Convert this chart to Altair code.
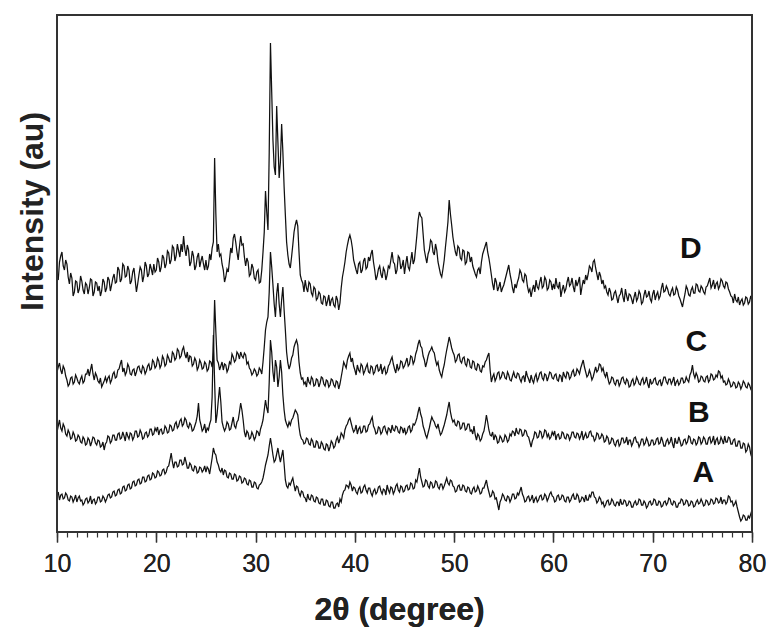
import altair as alt
import pandas as pd

# 2-theta sampling of the digitised patterns (degrees)
TWO_THETA_START = 10.0
TWO_THETA_STEP = 0.125

# Intensities (arbitrary units, stacked offsets as in the figure), one value per 0.125 deg, 10 -> 80
D_VALUES = [
    258, 252, 270, 276, 280, 266, 262, 272, 268, 255, 248, 259, 254, 236, 240, 251, 250, 239, 243, 256,
    251, 242, 238, 249, 247, 238, 244, 253, 252, 236, 240, 250, 249, 241, 246, 236, 241, 253, 250, 240,
    244, 255, 252, 241, 247, 254, 258, 249, 250, 265, 262, 250, 253, 268, 266, 255, 256, 266, 262, 248,
    251, 260, 264, 252, 240, 248, 257, 265, 262, 250, 256, 270, 266, 255, 258, 268, 263, 257, 268, 260,
    262, 274, 270, 260, 265, 277, 274, 264, 268, 281, 279, 268, 272, 286, 284, 271, 276, 288, 281, 275,
    288, 280, 296, 283, 276, 287, 282, 266, 270, 281, 276, 262, 266, 275, 279, 265, 271, 276, 268, 262,
    272, 262, 266, 278, 272, 284, 290, 374, 318, 280, 288, 276, 278, 268, 262, 250, 255, 263, 260, 272,
    284, 279, 294, 298, 290, 280, 272, 285, 296, 287, 288, 275, 266, 274, 270, 256, 258, 268, 264, 254,
    252, 260, 262, 249, 250, 262, 280, 300, 341, 320, 302, 380, 489, 440, 392, 365, 357, 426, 390, 354,
    370, 408, 380, 345, 317, 290, 277, 268, 264, 275, 287, 300, 307, 312, 306, 280, 257, 252, 249, 240,
    252, 244, 240, 250, 248, 239, 236, 245, 243, 232, 234, 240, 238, 229, 228, 236, 235, 226, 231, 237,
    226, 232, 234, 227, 225, 236, 232, 222, 229, 244, 255, 262, 270, 280, 287, 293, 297, 292, 284, 272,
    267, 262, 258, 268, 270, 259, 262, 271, 274, 263, 265, 275, 271, 278, 282, 270, 262, 252, 256, 263,
    266, 258, 254, 264, 261, 252, 257, 266, 264, 272, 280, 270, 268, 258, 262, 276, 274, 263, 266, 272,
    258, 268, 276, 265, 262, 271, 280, 268, 272, 284, 297, 312, 320, 316, 314, 298, 282, 275, 269, 278,
    282, 292, 290, 280, 277, 288, 282, 270, 264, 258, 255, 263, 272, 285, 297, 310, 332, 318, 307, 295,
    287, 280, 276, 286, 284, 274, 272, 282, 281, 268, 270, 280, 279, 270, 275, 266, 262, 258, 255, 262,
    264, 258, 270, 278, 282, 286, 290, 280, 274, 266, 257, 248, 242, 254, 250, 241, 245, 250, 240, 244,
    247, 252, 257, 262, 267, 258, 252, 244, 239, 248, 244, 250, 254, 262, 259, 252, 250, 258, 256, 246,
    240, 243, 235, 242, 247, 240, 252, 245, 243, 250, 255, 244, 246, 255, 252, 242, 244, 252, 250, 242,
    248, 243, 254, 246, 244, 250, 235, 242, 247, 240, 243, 250, 255, 246, 248, 254, 245, 240, 252, 246,
    250, 255, 237, 245, 252, 248, 257, 252, 258, 266, 264, 260, 270, 272, 264, 258, 252, 260, 256, 248,
    252, 244, 246, 240, 237, 244, 240, 232, 233, 239, 241, 235, 229, 236, 238, 244, 235, 230, 243, 236,
    231, 238, 237, 233, 228, 235, 240, 231, 234, 241, 238, 228, 230, 237, 242, 235, 236, 241, 233, 230,
    238, 242, 232, 237, 240, 233, 236, 244, 249, 240, 241, 246, 243, 238, 236, 241, 244, 237, 238, 245,
    242, 236, 233, 229, 225, 232, 238, 246, 243, 237, 236, 242, 245, 239, 239, 248, 247, 241, 240, 246,
    244, 240, 238, 245, 246, 250, 254, 244, 247, 252, 243, 248, 250, 243, 246, 253, 251, 246, 244, 250,
    249, 243, 240, 236, 235, 229, 238, 232, 230, 235, 227, 231, 233, 227, 229, 235, 234, 228, 230, 236,
    232,
]
C_VALUES = [
    160, 165, 169, 162, 158, 166, 163, 156, 152, 146, 148, 154, 155, 148, 150, 157, 154, 150, 148, 153,
    156, 149, 151, 158, 158, 163, 156, 162, 168, 158, 152, 159, 156, 151, 149, 154, 145, 148, 151, 155,
    150, 154, 156, 149, 152, 158, 160, 154, 155, 162, 163, 168, 172, 160, 164, 157, 160, 168, 165, 158,
    157, 162, 163, 156, 160, 165, 166, 161, 159, 166, 164, 158, 161, 166, 168, 162, 163, 172, 170, 164,
    166, 174, 171, 164, 167, 176, 173, 166, 168, 177, 174, 170, 170, 180, 178, 172, 174, 183, 181, 174,
    176, 182, 185, 178, 174, 180, 170, 176, 175, 166, 168, 174, 171, 162, 165, 172, 169, 163, 164, 170,
    168, 161, 163, 171, 170, 165, 180, 232, 200, 172, 169, 162, 166, 170, 162, 168, 167, 160, 163, 170,
    168, 178, 175, 170, 172, 180, 178, 173, 180, 176, 174, 179, 177, 168, 170, 164, 162, 157, 159, 163,
    161, 156, 158, 164, 162, 158, 170, 185, 202, 210, 215, 240, 280, 265, 247, 228, 215, 238, 249, 228,
    215, 232, 245, 222, 202, 180, 169, 163, 167, 174, 177, 185, 189, 192, 187, 170, 159, 153, 154, 148,
    150, 145, 155, 150, 148, 155, 153, 146, 147, 153, 152, 145, 149, 155, 154, 148, 146, 152, 151, 145,
    147, 153, 152, 147, 145, 151, 150, 143, 148, 155, 162, 170, 167, 164, 172, 176, 179, 170, 174, 166,
    162, 157, 167, 162, 160, 168, 166, 158, 161, 165, 168, 160, 159, 166, 165, 158, 160, 166, 167, 161,
    162, 168, 158, 163, 165, 158, 160, 166, 168, 172, 175, 168, 163, 159, 168, 162, 164, 171, 170, 164,
    166, 170, 174, 166, 168, 176, 175, 168, 171, 178, 182, 188, 192, 186, 184, 176, 172, 165, 170, 176,
    180, 182, 185, 181, 179, 172, 167, 170, 162, 158, 155, 162, 167, 175, 182, 188, 195, 190, 184, 180,
    177, 170, 172, 177, 178, 171, 169, 174, 175, 168, 166, 173, 172, 165, 164, 171, 170, 163, 162, 168,
    167, 161, 160, 166, 165, 170, 172, 176, 179, 162, 150, 155, 158, 151, 154, 159, 160, 153, 155, 160,
    159, 154, 153, 160, 157, 152, 151, 156, 160, 155, 154, 159, 158, 153, 150, 155, 156, 150, 161, 156,
    153, 149, 157, 152, 149, 155, 158, 151, 154, 159, 160, 154, 152, 158, 157, 151, 155, 160, 159, 154,
    153, 157, 158, 152, 151, 157, 156, 150, 160, 156, 154, 160, 159, 153, 155, 160, 162, 156, 157, 163,
    161, 158, 164, 168, 172, 165, 160, 155, 157, 162, 158, 152, 155, 160, 165, 160, 162, 168, 167, 161,
    164, 158, 155, 160, 153, 148, 150, 155, 154, 149, 147, 152, 152, 146, 149, 154, 155, 150, 148, 153,
    151, 145, 146, 151, 153, 147, 149, 155, 152, 148, 147, 152, 154, 148, 150, 155, 148, 144, 153, 148,
    149, 153, 154, 148, 147, 151, 152, 146, 150, 155, 155, 150, 148, 153, 153, 148, 151, 155, 146, 150,
    152, 147, 149, 154, 154, 149, 150, 155, 152, 150, 157, 160, 167, 158, 154, 159, 156, 150, 151, 156,
    155, 151, 150, 155, 156, 150, 152, 158, 157, 152, 153, 157, 155, 161, 160, 154, 156, 150, 151, 147,
    148, 153, 150, 145, 146, 150, 149, 144, 145, 150, 148, 143, 146, 151, 149, 145, 144, 149, 147, 143,
    146,
]
B_VALUES = [
    100, 106, 112, 104, 101, 108, 105, 98, 96, 102, 99, 93, 94, 100, 97, 91, 92, 97, 95, 90,
    89, 95, 93, 87, 88, 94, 92, 86, 90, 95, 94, 89, 87, 92, 91, 85, 86, 90, 82, 88,
    90, 96, 95, 89, 91, 97, 97, 92, 92, 98, 99, 93, 94, 100, 96, 91, 100, 96, 93, 99,
    98, 92, 95, 101, 101, 95, 96, 102, 99, 93, 94, 99, 100, 95, 97, 103, 103, 97, 98, 104,
    101, 105, 97, 102, 103, 98, 99, 106, 104, 99, 100, 107, 106, 101, 102, 108, 110, 104, 106, 111,
    113, 106, 108, 114, 112, 106, 104, 109, 107, 101, 102, 106, 110, 116, 129, 112, 107, 101, 103, 108,
    99, 104, 102, 108, 112, 135, 197, 150, 109, 118, 132, 145, 130, 110, 105, 101, 104, 110, 108, 102,
    103, 109, 115, 106, 104, 110, 112, 120, 129, 122, 112, 100, 95, 101, 99, 93, 94, 100, 97, 92,
    95, 101, 100, 96, 103, 107, 112, 122, 132, 124, 119, 150, 192, 180, 160, 150, 172, 165, 145, 155,
    172, 160, 137, 122, 112, 108, 105, 110, 107, 112, 114, 118, 122, 120, 117, 105, 97, 93, 92, 88,
    89, 94, 93, 88, 87, 93, 91, 85, 85, 91, 90, 84, 84, 90, 88, 83, 82, 88, 87, 81,
    85, 91, 89, 84, 86, 92, 95, 89, 93, 99, 97, 94, 102, 106, 108, 112, 114, 109, 104, 100,
    102, 107, 98, 103, 105, 99, 100, 106, 106, 100, 101, 107, 108, 112, 115, 106, 103, 98, 99, 105,
    104, 98, 100, 105, 106, 101, 98, 104, 103, 99, 107, 102, 101, 106, 105, 100, 99, 105, 104, 99,
    104, 98, 100, 105, 106, 100, 102, 108, 107, 110, 114, 120, 125, 118, 114, 106, 102, 97, 94, 99,
    104, 110, 115, 112, 110, 106, 104, 108, 102, 97, 99, 103, 107, 112, 117, 124, 130, 120, 114, 110,
    112, 107, 106, 111, 110, 103, 104, 109, 109, 102, 103, 108, 108, 101, 102, 98, 106, 97, 92, 98,
    96, 91, 93, 98, 101, 108, 117, 110, 102, 97, 96, 100, 92, 97, 95, 89, 90, 96, 94, 90,
    91, 97, 95, 90, 92, 98, 96, 101, 100, 96, 104, 99, 98, 103, 102, 96, 97, 102, 101, 96,
    95, 90, 85, 91, 94, 100, 99, 94, 95, 101, 100, 94, 96, 102, 101, 95, 98, 93, 95, 100,
    97, 101, 92, 97, 98, 93, 94, 100, 99, 94, 93, 98, 97, 92, 95, 100, 100, 95, 94, 99,
    98, 93, 96, 101, 92, 96, 99, 94, 95, 100, 101, 96, 96, 91, 93, 99, 98, 93, 94, 98,
    96, 90, 91, 96, 94, 88, 89, 94, 93, 88, 86, 91, 92, 86, 88, 94, 94, 89, 90, 95,
    87, 92, 92, 86, 89, 94, 95, 90, 90, 85, 88, 93, 93, 87, 89, 94, 91, 86, 87, 92,
    92, 87, 88, 93, 94, 88, 89, 95, 91, 86, 86, 91, 93, 88, 90, 95, 88, 84, 94, 89,
    89, 95, 91, 86, 87, 92, 93, 88, 90, 96, 95, 89, 88, 93, 92, 87, 89, 95, 94, 88,
    90, 95, 93, 88, 88, 94, 95, 89, 91, 96, 87, 92, 94, 88, 89, 95, 92, 88, 96, 90,
    90, 95, 94, 88, 88, 92, 93, 86, 86, 91, 91, 84, 84, 89, 88, 80, 82, 88, 85, 78,
    74,
]
A_VALUES = [
    36, 40, 32, 37, 38, 33, 34, 39, 37, 32, 31, 36, 35, 30, 33, 37, 30, 34, 36, 31,
    32, 27, 29, 33, 34, 29, 31, 36, 28, 32, 33, 28, 30, 35, 35, 30, 31, 36, 34, 30,
    33, 37, 38, 34, 35, 40, 41, 36, 37, 42, 43, 38, 39, 45, 46, 41, 42, 47, 48, 43,
    44, 50, 51, 46, 47, 52, 53, 48, 49, 55, 55, 50, 51, 56, 57, 52, 53, 59, 58, 54,
    55, 61, 60, 56, 57, 62, 63, 58, 60, 65, 66, 72, 79, 70, 64, 70, 70, 65, 66, 72,
    72, 67, 68, 75, 70, 64, 64, 69, 67, 62, 61, 66, 65, 59, 60, 65, 64, 60, 62, 66,
    60, 65, 63, 58, 66, 74, 84, 79, 77, 70, 67, 62, 60, 64, 57, 62, 61, 55, 54, 59,
    58, 53, 53, 58, 57, 51, 52, 56, 55, 49, 50, 54, 53, 48, 47, 52, 51, 45, 45, 50,
    49, 44, 43, 47, 48, 50, 54, 60, 67, 72, 77, 86, 94, 86, 77, 70, 72, 78, 84, 76,
    70, 76, 82, 68, 52, 46, 44, 49, 47, 51, 54, 47, 41, 46, 45, 39, 36, 41, 40, 35,
    34, 30, 38, 33, 32, 37, 36, 31, 30, 35, 34, 29, 28, 33, 33, 27, 27, 32, 31, 26,
    25, 30, 30, 24, 24, 28, 29, 25, 33, 30, 37, 41, 42, 47, 46, 44, 50, 47, 41, 45,
    44, 40, 38, 43, 45, 39, 40, 45, 47, 42, 39, 44, 44, 39, 36, 41, 43, 38, 40, 45,
    46, 41, 38, 43, 42, 37, 47, 42, 39, 45, 44, 38, 41, 46, 48, 42, 40, 46, 45, 40,
    41, 46, 47, 42, 43, 49, 48, 43, 44, 52, 50, 57, 64, 55, 50, 45, 46, 52, 51, 46,
    44, 50, 49, 44, 45, 51, 50, 45, 43, 48, 48, 43, 46, 50, 54, 49, 47, 52, 51, 46,
    45, 40, 41, 46, 47, 42, 42, 47, 46, 41, 40, 45, 44, 39, 38, 43, 45, 40, 41, 46,
    43, 38, 39, 44, 44, 48, 52, 45, 40, 35, 36, 41, 39, 33, 34, 28, 22, 30, 33, 38,
    36, 32, 31, 36, 35, 30, 33, 38, 38, 33, 34, 39, 37, 41, 45, 38, 35, 30, 31, 35,
    36, 31, 33, 37, 29, 33, 35, 30, 32, 36, 37, 32, 33, 38, 36, 31, 34, 38, 40, 36,
    35, 30, 31, 36, 37, 32, 33, 37, 36, 31, 30, 35, 35, 30, 32, 36, 38, 33, 33, 38,
    36, 30, 31, 35, 34, 30, 37, 32, 32, 37, 35, 40, 40, 35, 34, 29, 31, 35, 33, 28,
    30, 25, 27, 31, 32, 27, 28, 33, 31, 27, 26, 30, 30, 26, 33, 28, 28, 32, 31, 26,
    27, 31, 30, 25, 25, 29, 31, 27, 28, 33, 32, 27, 27, 31, 29, 24, 26, 30, 31, 27,
    28, 33, 32, 27, 27, 31, 30, 25, 26, 30, 31, 27, 29, 34, 33, 28, 27, 31, 30, 25,
    25, 29, 29, 33, 32, 27, 28, 32, 31, 26, 27, 31, 30, 25, 26, 30, 32, 28, 29, 33,
    30, 26, 27, 32, 31, 27, 28, 33, 32, 28, 29, 34, 33, 29, 30, 35, 28, 32, 32, 28,
    30, 36, 35, 30, 31, 26, 28, 31, 25, 20, 15, 11, 13, 17, 16, 12, 12, 16, 14, 18,
    22,
]

SAMPLES = ["A", "B", "C", "D"]
SERIES = [A_VALUES, B_VALUES, C_VALUES, D_VALUES]

# Curve labels (anchored in data units)
LABEL_TEXT = ["D", "C", "B", "A"]
LABEL_THETA = [73.85, 74.4, 74.65, 75.1]
LABEL_INTENSITY = [274, 181, 110, 50]

MAJOR_TICKS = [10, 20, 30, 40, 50, 60, 70, 80]
MINOR_TICKS = list(range(10, 81))

rows = []
for name, vals in zip(SAMPLES, SERIES):
    for i, v in enumerate(vals):
        rows.append({"theta": TWO_THETA_START + i * TWO_THETA_STEP, "intensity": v, "sample": name})
df = pd.DataFrame(rows)

labels_df = pd.DataFrame({"label": LABEL_TEXT, "theta": LABEL_THETA, "intensity": LABEL_INTENSITY})
minor_df = pd.DataFrame({"theta": MINOR_TICKS})

FONT = "Liberation Sans"
W, H = 695, 517
x_scale = alt.Scale(domain=[10, 80], nice=False, zero=False)
y_scale = alt.Scale(domain=[0, 517], nice=False, zero=False)

y_axis = alt.Axis(
    title="Intensity (au)", ticks=False, labels=False, domain=False, grid=False,
    titleFont=FONT, titleFontSize=32, titleFontWeight="bold", titleColor="#222",
    titleAngle=270, titleAlign="center", titleBaseline="alphabetic",
    titleX=-15, titleY=196,
)

major_axis = alt.Axis(
    values=MAJOR_TICKS, tickSize=10, tickWidth=1.3, tickColor="#333",
    domain=False, grid=False, orient="bottom",
    labelFont=FONT, labelFontSize=25, labelColor="#222", labelPadding=9,
    labelFlush=False, labelOverlap=False,
    title="2θ (degree)", titleFont=FONT, titleFontSize=32, titleFontWeight="bold",
    titleColor="#222", titleAlign="center", titleBaseline="alphabetic",
    titleX=342, titleY=87,
)
minor_axis = alt.Axis(
    values=MINOR_TICKS, tickSize=5, tickWidth=1.2, tickColor="#333",
    domain=False, grid=False, labels=False, orient="bottom", title=None,
)

lines = alt.Chart(df).mark_line(color="#111", strokeWidth=1.25).encode(
    x=alt.X("theta:Q", scale=x_scale, axis=major_axis),
    y=alt.Y("intensity:Q", scale=y_scale, axis=y_axis),
    detail="sample:N",
    order="theta:Q",
)

texts = alt.Chart(labels_df).mark_text(
    font=FONT, fontSize=30, fontWeight="bold", color="#111",
    align="center", baseline="alphabetic",
).encode(
    x=alt.X("theta:Q", scale=x_scale, axis=major_axis),
    y=alt.Y("intensity:Q", scale=y_scale, axis=y_axis),
    text="label:N",
)

minor = alt.Chart(minor_df).mark_rule(opacity=0).encode(
    x=alt.X("theta:Q", scale=x_scale, axis=minor_axis),
)

frame = alt.Chart(labels_df).mark_rect(
    filled=False, stroke="#333", strokeWidth=1.6
).encode(
    x=alt.value(0), x2=alt.value(W), y=alt.value(0), y2=alt.value(H),
)

chart = alt.layer(lines, texts, minor, frame).resolve_axis(x="independent").resolve_scale(x="shared").properties(
    width=W,
    height=H,
    autosize=alt.AutoSizeParams(type="none"),
    padding={"left": 49, "top": 7, "right": 21, "bottom": 102},
).configure_view(
    strokeOpacity=0
).configure(background="white")

chart.save("out.html", embed_options={"renderer": "svg", "actions": False})
